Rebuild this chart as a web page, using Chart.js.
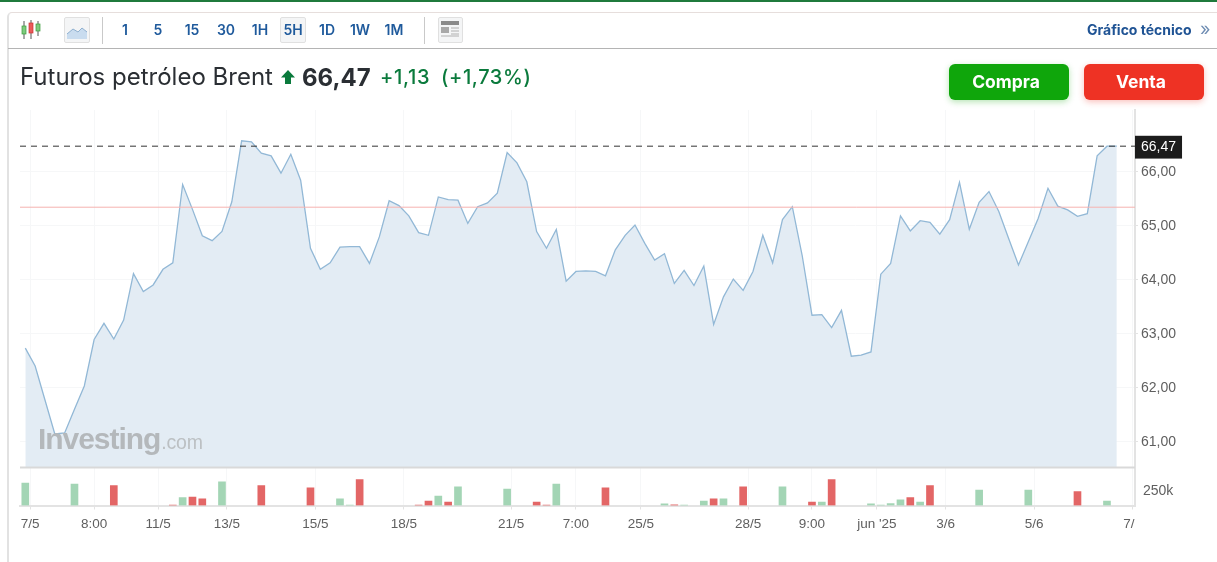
<!DOCTYPE html>
<html lang="es">
<head>
<meta charset="utf-8">
<title>Futuros petróleo Brent</title>
<script src="https://cdn.jsdelivr.net/npm/chart.js@4/dist/chart.umd.min.js"></script>
<style>
  html,body{margin:0;padding:0;background:#fff;width:1217px;height:562px;overflow:hidden;font-family:Inter,"Liberation Sans",sans-serif;}
  #chartWrap{position:absolute;left:0;top:0;width:1217px;height:562px;}
  .abs{position:absolute;white-space:nowrap;}
  #topLine{left:0;top:0;width:1217px;height:2px;background:#1f7a3c;}
  #frame{left:7px;top:12px;width:1230px;height:580px;border:1px solid #e6dedc;border-left:2px solid #e2e2e2;border-radius:5px 0 0 0;box-sizing:border-box;}
  #toolLine{left:8px;top:48px;width:1209px;height:1px;background:#b4b4b4;}
  .sep{top:17px;width:1px;height:27px;background:#c9c9c9;}
  .range{top:21px;width:26px;text-align:center;font-size:14px;line-height:18px;font-weight:600;color:#1f5a9c;}
  .btnBox{box-sizing:border-box;border:1px solid #e0e0e0;border-radius:2px;background:#f4f5f6;}
  #title{left:20px;top:62px;font-size:24px;line-height:30px;color:#2a2e33;}
  #price{left:302px;top:62px;font-size:24px;line-height:31px;font-weight:700;color:#2a2e33;}
  #change,#pct{top:63px;font-size:20px;line-height:28px;font-weight:500;color:#0a7a3c;}
  #change{left:380px;letter-spacing:.7px;}
  #pct{left:441px;letter-spacing:.6px;}
  .trade{top:64px;width:120px;height:36px;border-radius:6px;color:#fff;font-weight:700;font-size:17.5px;line-height:35px;text-align:center;text-indent:-6px;}
  #buy{left:949px;background:#0fa60b;box-shadow:0 2px 6px rgba(15,166,11,.3);}
  #sell{left:1084px;background:#ee3224;box-shadow:0 2px 6px rgba(238,50,36,.3);}
  #tech{left:1087px;top:21px;font-size:14px;line-height:18px;font-weight:700;color:#1f5394;}
  #techArrow{left:1200px;top:20px;font-size:18px;line-height:18px;color:#6f8db3;}
  #mark{left:38px;top:421px;font-family:"Liberation Sans",sans-serif;font-size:30px;line-height:36px;font-weight:700;color:#b4b8bb;letter-spacing:-1.05px;}
  #mark span{font-weight:400;font-size:19.5px;letter-spacing:-.2px;color:#bcc0c3;margin-left:1px;}
</style>
</head>
<body>
<div id="chartWrap"><canvas id="brentChart" width="1217" height="562" style="width:1217px;height:562px"></canvas></div>

<div class="abs" id="topLine"></div>
<div class="abs" id="frame"></div>
<div class="abs" id="toolLine"></div>

<!-- toolbar -->
<svg class="abs" style="left:20px;top:19px" width="22" height="22" viewBox="0 0 22 22">
  <path d="M4 2v18M11 1v19M18 2v15" stroke="#555" stroke-width="1"/>
  <rect x="2" y="7" width="4" height="8" fill="#7ecb7e" stroke="#3a9a3a" stroke-width=".7"/>
  <rect x="9" y="4" width="4" height="10" fill="#ea5a5a" stroke="#c33" stroke-width=".7"/>
  <rect x="16" y="5" width="4" height="7" fill="#7ecb7e" stroke="#3a9a3a" stroke-width=".7"/>
</svg>
<div class="abs btnBox" style="left:64px;top:17px;width:26px;height:26px"></div>
<svg class="abs" style="left:66px;top:21px" width="22" height="20" viewBox="0 0 22 20">
  <path d="M1 13L7 8l5 3 4-4 5 4v7H1z" fill="#c9dcef"/>
  <path d="M1 13L7 8l5 3 4-4 5 4" fill="none" stroke="#8fb0d0" stroke-width="1"/>
</svg>
<div class="abs sep" style="left:102px"></div>
<div class="abs btnBox" style="left:280px;top:17px;width:26px;height:26px"></div>
<div class="abs range" style="left:112px">1</div>
<div class="abs range" style="left:145px">5</div>
<div class="abs range" style="left:179px">15</div>
<div class="abs range" style="left:213px">30</div>
<div class="abs range" style="left:247px">1H</div>
<div class="abs range" style="left:280px">5H</div>
<div class="abs range" style="left:314px">1D</div>
<div class="abs range" style="left:347px">1W</div>
<div class="abs range" style="left:381px">1M</div>
<div class="abs sep" style="left:424px"></div>
<div class="abs btnBox" style="left:438px;top:17px;width:25px;height:26px"></div>
<svg class="abs" style="left:441px;top:21px" width="18" height="18" viewBox="0 0 18 18">
  <rect x="0" y="0" width="18" height="4" fill="#8a8a8a"/>
  <rect x="0" y="6" width="8" height="6" fill="#a8a8a8"/>
  <path d="M10 7h8M10 10h8M10 13h8M0 15h18" stroke="#b0b0b0" stroke-width="1"/>
</svg>
<div class="abs" id="tech">Gráfico técnico</div>
<div class="abs" id="techArrow">»</div>

<!-- quote line -->
<div class="abs" id="title">Futuros petróleo Brent</div>
<svg class="abs" style="left:280px;top:69px" width="16" height="16" viewBox="0 0 16 16">
  <path d="M8 1L15 8.5H11V15H5V8.5H1z" fill="#0a7a3c"/>
</svg>
<div class="abs" id="price">66,47</div>
<div class="abs" id="change">+1,13</div>
<div class="abs" id="pct">(+1,73%)</div>
<div class="abs trade" id="buy">Compra</div>
<div class="abs trade" id="sell">Venta</div>

<div class="abs" id="mark">Investing<span>.com</span></div>

<script>
// price, one value per 5h period
const prices = [
  62.73,62.40,61.77,61.14,61.16,61.60,62.03,62.89,63.19,62.90,
  63.25,64.11,63.78,63.90,64.19,64.31,65.76,65.30,64.81,64.72,
  64.89,65.44,66.57,66.55,66.34,66.29,65.97,66.32,65.84,64.58,
  64.19,64.31,64.60,64.61,64.61,64.30,64.79,65.46,65.37,65.18,
  64.87,64.82,65.53,65.48,65.47,65.04,65.35,65.42,65.60,66.35,
  66.16,65.81,64.89,64.58,64.93,63.97,64.15,64.16,64.15,64.07,
  64.55,64.82,65.01,64.67,64.36,64.48,63.93,64.17,63.89,64.25,
  63.17,63.68,64.01,63.80,64.15,64.82,64.31,65.11,65.35,64.45,
  63.34,63.35,63.11,63.43,62.58,62.60,62.66,64.10,64.30,65.18,
  64.90,65.09,65.06,64.84,65.11,65.80,64.93,65.43,65.63,65.26,
  64.76,64.27,64.70,65.13,65.69,65.36,65.29,65.17,65.22,66.29,
  66.47,66.47
];

// volume bars, only the periods that have one
const volIndex = [0,5,9,15,16,17,18,20,24,29,32,33,34,40,41,42,43,44,49,52,53,54,59,65,66,67,69,70,71,73,77,80,81,82,86,87,88,89,90,91,92,97,102,107,110];
const volValues = [360000,343000,322000,6000,129000,134000,107000,381000,322000,285000,107000,5000,418000,6000,70000,150000,54000,300000,263000,54000,8000,343000,285000,25000,10000,6000,70000,107000,107000,300000,300000,54000,54000,418000,25000,6000,32000,91000,129000,54000,322000,247000,247000,225000,70000];
const volUp = [1,1,0,0,1,0,0,1,0,0,1,1,0,0,0,1,0,1,1,0,0,1,0,1,0,1,1,0,1,0,1,0,1,0,1,1,1,1,0,1,0,1,1,0,1];

const lastPrice = 66.47;
const prevClose = 65.34;

const priceTicks = [61,62,63,64,65,66,lastPrice];
const volTicks = [250000];
const xTickIndex = [0.5,7,13.5,20.5,29.5,38.5,49.4,56,62.6,73.5,80,86.6,93.6,102.6,112.6];
const xTickLabels = ['7/5','8:00','11/5','13/5','15/5','18/5','21/5','7:00','25/5','28/5','9:00',"jun '25",'3/6','5/6','7/  '];

const xMin = -0.54, xMax = 112.85;
const priceMin = 60.52, priceMax = 67.14;
const volMax = 612000;

const GRID = '#f6f7f8';
const AXIS = '#e3e3e3';
const LABEL = '#5f5f5f';
const labelFont = {family:'"Liberation Sans",Arial,sans-serif', size:14};

// line between price pane and volume pane
const paneLine = {
  id:'paneLine',
  afterDatasetsDraw(chart){
    const {ctx, chartArea, scales} = chart;
    const y = scales.y.bottom;
    ctx.save();
    ctx.strokeStyle = '#d9d9d9';
    ctx.lineWidth = 2;
    ctx.beginPath();
    ctx.moveTo(chartArea.left, y);
    ctx.lineTo(chartArea.right, y);
    ctx.stroke();
    ctx.restore();
  }
};

document.addEventListener('DOMContentLoaded', init);

function init(){
  const ctx = document.getElementById('brentChart').getContext('2d');
  new Chart(ctx, {
    data:{
      datasets:[
        {
          type:'line', yAxisID:'y', order:3,
          data:prices.map((v,i)=>({x:i,y:v})),
          borderColor:'#92b8d6', borderWidth:1.3,
          backgroundColor:'#e3ecf4', fill:'start',
          pointRadius:0, tension:0
        },
        {
          type:'line', yAxisID:'y', order:2,
          data:[{x:xMin,y:prevClose},{x:xMax,y:prevClose}],
          borderColor:'#f6b3b0', borderWidth:1, pointRadius:0, fill:false
        },
        {
          type:'line', yAxisID:'y', order:1,
          data:[{x:xMin,y:lastPrice},{x:xMax,y:lastPrice}],
          borderColor:'#333', borderWidth:1, borderDash:[6,5], pointRadius:0, fill:false
        },
        {
          type:'bar', yAxisID:'yVol', order:4,
          data:volValues.map((v,i)=>({x:volIndex[i],y:v})),
          backgroundColor:volUp.map(u=> u ? '#a3d5b5' : '#e36666'),
          barThickness:7
        }
      ]
    },
    options:{
      responsive:false,
      animation:false,
      layout:{padding:{left:20,top:110,right:0,bottom:0}},
      plugins:{legend:{display:false},tooltip:{enabled:false}},
      events:[],
      scales:{
        x:{
          type:'linear', min:xMin, max:xMax, offset:false,
          afterBuildTicks:s=>{ s.ticks = xTickIndex.map(v=>({value:v})); },
          afterFit:s=>{ s.height = 56.5; },
          grid:{color:GRID, tickColor:AXIS, tickLength:4, offset:false},
          border:{color:AXIS, width:2},
          ticks:{
            autoSkip:false, maxRotation:0, minRotation:0, padding:7,
            color:LABEL, font:{...labelFont, size:13.5},
            callback:v=> xTickLabels[xTickIndex.indexOf(v)]
          }
        },
        y:{
          position:'right', stack:'panes', stackWeight:357.5,
          min:priceMin, max:priceMax,
          afterBuildTicks:s=>{ s.ticks = priceTicks.map(v=>({value:v})); },
          afterFit:s=>{ s.width = 82; },
          grid:{
            color:c=> c.tick && c.tick.value === lastPrice ? 'rgba(0,0,0,0)' : GRID,
            tickColor:c=> c.tick && c.tick.value === lastPrice ? 'rgba(0,0,0,0)' : AXIS,
            tickLength:3
          },
          border:{color:AXIS, width:2},
          ticks:{
            autoSkip:false, padding:3, labelOffset:1, font:labelFont,
            color:c=> c.tick.value === lastPrice ? '#fff' : LABEL,
            showLabelBackdrop:c=> c.tick.value === lastPrice,
            backdropColor:'#1c1c1c',
            backdropPadding:{x:6,y:3},
            callback:v=> v.toFixed(2).replace('.',',')
          }
        },
        yVol:{
          position:'right', stack:'panes', stackWeight:38,
          min:0, max:volMax,
          afterBuildTicks:s=>{ s.ticks = volTicks.map(v=>({value:v})); },
          afterFit:s=>{ s.width = 82; },
          grid:{display:false},
          border:{color:AXIS, width:2},
          ticks:{
            autoSkip:false, padding:0, labelOffset:1, color:LABEL, font:labelFont,
            callback:v=> (v/1000)+'k'
          }
        }
      }
    },
    plugins:[paneLine]
  });
}
</script>
</body>
</html>
